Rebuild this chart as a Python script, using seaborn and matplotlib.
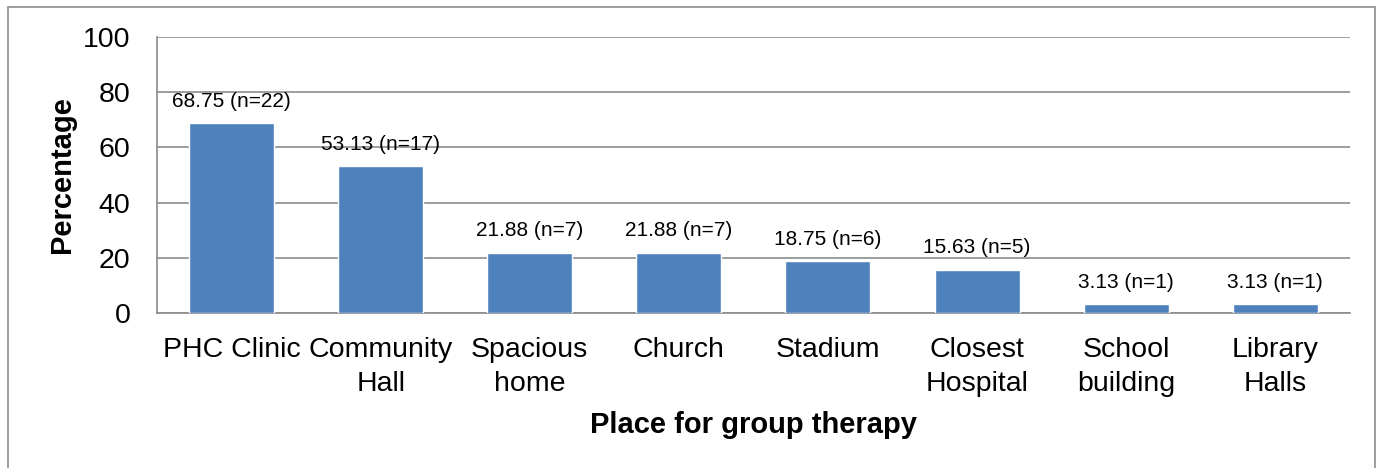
import matplotlib
matplotlib.use("Agg")
import matplotlib.pyplot as plt
import seaborn as sns
import pandas as pd
from matplotlib.patches import Rectangle

places = ["PHC Clinic", "Community\nHall", "Spacious\nhome", "Church", "Stadium",
          "Closest\nHospital", "School\nbuilding", "Library\nHalls"]
percentages = [68.75, 53.13, 21.88, 21.88, 18.75, 15.63, 3.13, 3.13]
counts = [22, 17, 7, 7, 6, 5, 1, 1]
y_ticks = [0, 20, 40, 60, 80, 100]

df = pd.DataFrame({"place": places, "pct": percentages, "n": counts})

sns.set_theme(style="white")
plt.rcParams["font.family"] = ["Liberation Sans", "DejaVu Sans"]

fig = plt.figure(figsize=(13.83, 4.68), dpi=100)
ax = fig.add_axes([0.1135, 0.331, 0.8625, 0.590])

sns.barplot(data=df, x="place", y="pct", color="#4F81BD", saturation=1,
            width=0.57, ax=ax, zorder=3)

ax.set_ylim(0, 100)
ax.set_yticks(y_ticks)
ax.yaxis.grid(True, color="#8C8C8C", linewidth=1.2, zorder=0)
ax.set_axisbelow(True)
for side in ["top", "right"]:
    ax.spines[side].set_visible(False)
for side in ["left", "bottom"]:
    ax.spines[side].set_color("#8C8C8C")
    ax.spines[side].set_linewidth(1.2)
ax.tick_params(axis="y", length=0, pad=19, labelsize=20.5, labelcolor="black")
ax.tick_params(axis="x", length=0, pad=17, labelsize=20.5, labelcolor="black")
for lbl in ax.get_xticklabels():
    lbl.set_linespacing(1.4)

ax.set_xlabel("Place for group therapy", fontsize=21, fontweight="bold",
              labelpad=10, color="black")
ax.set_ylabel("Percentage", fontsize=21, fontweight="bold", labelpad=5,
              color="black")

for i, (v, n) in enumerate(zip(percentages, counts)):
    ax.annotate(f"{v:.2f} (n={n})", xy=(i, v), xytext=(0, 9),
                textcoords="offset points", ha="center", va="bottom",
                fontsize=15, color="black")

fig.patches.append(Rectangle((8 / 1383, -0.1), (1375 - 8) / 1383, 1.1 - 7 / 468,
                             transform=fig.transFigure, fill=False,
                             edgecolor="#8C8C8C", linewidth=1.2))

fig.savefig("out.png", dpi=100, facecolor="white")
